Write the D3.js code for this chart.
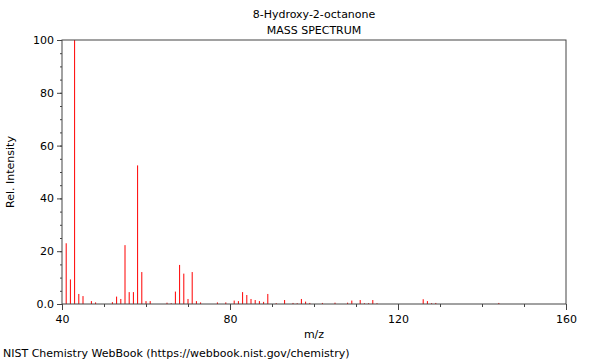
<!DOCTYPE html>
<html>
<head>
<meta charset="utf-8">
<script src="https://cdn.jsdelivr.net/npm/d3@7"></script>
<style>
  body { margin: 0; background: #fff; }
  text { font-family: "DejaVu Sans", sans-serif; }
</style>
</head>
<body>
<div id="chart"></div>
<script>
// peaks
var mz = [41, 42, 43, 44, 45, 47, 48, 52, 53, 54, 55, 56, 57, 58, 59, 60, 61,
    65, 66, 67, 68, 69, 70, 71, 72, 73, 77, 79, 81, 82, 83, 84, 85, 86, 87, 88, 89,
    91, 93, 95, 96, 97, 98, 99, 102, 105, 108, 109, 111, 112, 113, 114, 115,
    126, 127, 128, 129, 144];
var intensity = [23, 9.3, 100, 3.8, 3.0, 1.1, 0.6, 0.7, 2.8, 1.9, 22.3, 4.5, 4.5, 52.5, 12.1, 1.1, 1.1,
    0.5, 0.3, 4.7, 14.8, 11.5, 1.9, 12.1, 1.1, 0.6, 0.6, 0.6, 1.3, 1.1, 4.5, 3.4, 1.9, 1.5, 1.1, 0.8, 3.8,
    0.3, 1.5, 0.4, 0.3, 1.9, 0.9, 0.4, 0.4, 0.5, 0.5, 1.3, 1.5, 0.3, 0.3, 1.5, 0.3,
    1.8, 1.1, 0.3, 0.4, 0.4];
var xTicks = [40, 80, 120, 160];
var yTicks = [0, 20, 40, 60, 80, 100];

var w = 600, h = 360;
var plotLeft = 62, plotRight = 566, plotTop = 40, plotBottom = 304;

var svg = d3.select("#chart").append("svg")
    .attr("width", w)
    .attr("height", h);

var x = d3.scaleLinear().domain([40, 160]).range([plotLeft, plotRight]);
var y = d3.scaleLinear().domain([0, 100]).range([plotBottom, plotTop]);

// peaks
svg.append("g")
    .selectAll("line")
    .data(mz)
    .enter()
    .append("line")
    .attr("x1", function (d) { return x(d); })
    .attr("x2", function (d) { return x(d); })
    .attr("y1", y(0))
    .attr("y2", function (d, i) { return y(intensity[i]); })
    .attr("stroke", "#ff0000")
    .attr("stroke-width", 1);

// minor ticks
var xAxisMinor = d3.axisBottom(x).tickValues(d3.range(40, 161, 10)).tickSize(3).tickFormat("");
var yAxisMinor = d3.axisLeft(y).tickValues(d3.range(0, 101, 5)).tickSize(2).tickFormat("");
svg.append("g").attr("transform", "translate(0," + plotBottom + ")").call(xAxisMinor);
svg.append("g").attr("transform", "translate(" + plotLeft + ",0)").call(yAxisMinor);

// major ticks + labels
var xAxis = d3.axisBottom(x).tickValues(xTicks).tickSize(6).tickPadding(5).tickFormat(d3.format("d"));
var yAxis = d3.axisLeft(y).tickValues(yTicks).tickSize(5).tickPadding(3)
    .tickFormat(function (d) { return d === 0 ? "0.0" : d; });
svg.append("g").attr("class", "xaxis").attr("transform", "translate(0," + plotBottom + ")").call(xAxis);
svg.append("g").attr("class", "yaxis").attr("transform", "translate(" + plotLeft + ",0)").call(yAxis);

svg.selectAll(".domain").remove();
svg.selectAll(".tick line").attr("stroke", "#444");
svg.selectAll(".tick text").attr("font-size", 11).attr("fill", "#000")
    .attr("font-family", "DejaVu Sans, sans-serif");

// frame
svg.append("rect")
    .attr("x", plotLeft)
    .attr("y", plotTop)
    .attr("width", plotRight - plotLeft)
    .attr("height", plotBottom - plotTop)
    .attr("fill", "none")
    .attr("stroke", "#444")
    .attr("stroke-width", 1);

// titles
var cx = (plotLeft + plotRight) / 2;
svg.append("text").attr("x", cx).attr("y", 18).attr("text-anchor", "middle")
    .attr("font-size", 11).text("8-Hydroxy-2-octanone");
svg.append("text").attr("x", cx).attr("y", 34).attr("text-anchor", "middle")
    .attr("font-size", 11).text("MASS SPECTRUM");
svg.append("text").attr("x", cx).attr("y", 338).attr("text-anchor", "middle")
    .attr("font-size", 11).text("m/z");
svg.append("text")
    .attr("transform", "translate(14," + ((plotTop + plotBottom) / 2) + ") rotate(-90)")
    .attr("text-anchor", "middle")
    .attr("font-size", 11).text("Rel. Intensity");
svg.append("text").attr("x", 3).attr("y", 357)
    .attr("font-size", 11).text("NIST Chemistry WebBook (https://webbook.nist.gov/chemistry)");
</script>
</body>
</html>
